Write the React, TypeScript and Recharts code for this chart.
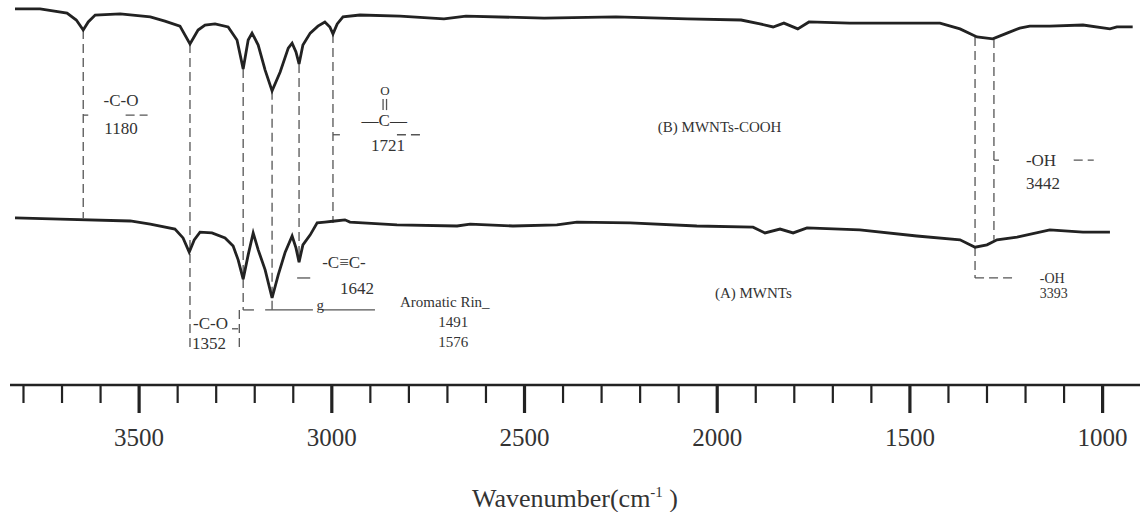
import React from "react";
import { LineChart, Line, XAxis, YAxis, ReferenceLine, ReferenceDot, Label } from "recharts";

// wavenumber (cm-1) and relative transmittance
const waveB = [3822, 3757, 3687, 3663, 3645, 3632, 3614, 3549, 3471, 3433, 3394, 3368, 3347, 3329, 3303, 3269, 3246, 3230, 3217, 3207, 3191, 3173, 3155, 3134, 3113, 3103, 3093, 3085, 3075, 3056, 3036, 3018, 3005, 2997, 2986, 2971, 2927, 2823, 2709, 2652, 2449, 2263, 2078, 1938, 1889, 1855, 1827, 1791, 1762, 1656, 1422, 1370, 1326, 1285, 1248, 1215, 1189, 1137, 1051, 981, 963, 922];
const transB = [97.7, 97.7, 96.6, 94.8, 92.2, 94.3, 96.1, 96.4, 95.6, 94.5, 93.2, 88.6, 92.2, 93.5, 93.8, 93.0, 89.6, 82.1, 89.6, 91.4, 88.3, 81.8, 76.4, 81.3, 87.5, 88.8, 86.5, 83.4, 88.3, 91.4, 93.2, 94.3, 93.0, 91.2, 93.8, 95.6, 96.1, 95.8, 95.1, 95.8, 95.3, 95.6, 95.1, 94.8, 93.8, 93.0, 94.0, 92.5, 94.3, 94.0, 94.0, 92.5, 90.4, 89.9, 91.4, 92.7, 93.2, 93.2, 93.5, 92.5, 93.0, 93.0];

const waveA = [3822, 3705, 3523, 3471, 3407, 3386, 3370, 3357, 3342, 3311, 3277, 3256, 3243, 3230, 3217, 3204, 3191, 3173, 3155, 3139, 3121, 3103, 3093, 3085, 3075, 3056, 3038, 3018, 2992, 2966, 2953, 2831, 2675, 2641, 2530, 2416, 2364, 2226, 2053, 1907, 1876, 1837, 1803, 1767, 1630, 1482, 1370, 1331, 1300, 1274, 1222, 1137, 1051, 981];
const transA = [43.4, 43.1, 42.6, 41.8, 40.5, 38.2, 34.5, 37.7, 39.7, 39.5, 38.2, 36.1, 32.5, 27.5, 33.8, 39.5, 35.1, 29.9, 22.6, 28.6, 34.5, 38.7, 35.6, 31.9, 36.4, 39.0, 42.1, 42.3, 42.6, 42.9, 42.3, 41.6, 41.3, 41.8, 41.3, 41.6, 42.3, 42.1, 41.3, 41.0, 39.5, 40.5, 39.5, 40.8, 40.3, 38.7, 37.7, 35.8, 36.4, 37.7, 38.4, 40.3, 39.7, 39.7];

const allTicks = [3800, 3700, 3600, 3500, 3400, 3300, 3200, 3100, 3000, 2900, 2800, 2700, 2600, 2500, 2400, 2300, 2200, 2100, 2000, 1900, 1800, 1700, 1600, 1500, 1400, 1300, 1200, 1100, 1000];
const majorTicks = [3500, 3000, 2500, 2000, 1500, 1000];

// dashed guide lines: [wavenumber from, value from, wavenumber to, value to]
const guides = [
  [3645, 92.2, 3645, 43.4],
  [3368, 88.6, 3368, 9.9],
  [3230, 82.1, 3230, 19.5],
  [3155, 76.4, 3155, 19.5],
  [3085, 83.4, 3085, 31.9],
  [2997, 91.2, 2997, 42.1],
  [3240, 19.5, 3240, 9.1],
  [1331, 90.4, 1331, 27.8],
  [1282, 89.9, 1282, 37.7],
  [1331, 27.8, 1228, 27.8],
  [3535, 70.1, 3478, 70.1],
  [2831, 65.0, 2766, 65.0],
  [1075, 58.4, 1023, 58.4],
];
// short solid strokes
const strokes = [
  [3230, 19.5, 3202, 19.5],
  [3173, 19.5, 3049, 19.5],
  [3025, 19.5, 2888, 19.5],
  [3645, 70.1, 3632, 70.1],
  [2997, 65.0, 2979, 65.0],
  [1282, 58.4, 1269, 58.4],
  [3090, 27.8, 3056, 27.8],
  [3259, 14.6, 3243, 14.6],
  [2867, 74.3, 2867, 71.4],
  [2858, 74.3, 2858, 71.4],
];

const notes = [
  { w: 3547, t: 74.0, text: "-C-O", anchor: "middle", size: 17 },
  { w: 3547, t: 66.8, text: "1180", anchor: "middle", size: 17 },
  { w: 2862, t: 76.6, text: "O", anchor: "middle", size: 13 },
  { w: 2864, t: 68.8, text: "—C—", anchor: "middle", size: 17 },
  { w: 2854, t: 62.3, text: "1721", anchor: "middle", size: 17 },
  { w: 2154, t: 67.0, text: "(B)  MWNTs-COOH", anchor: "start", size: 15 },
  { w: 1199, t: 58.4, text: "-OH", anchor: "start", size: 17 },
  { w: 1199, t: 52.5, text: "3442", anchor: "start", size: 17 },
  { w: 3025, t: 31.9, text: "-C≡C-", anchor: "start", size: 17 },
  { w: 2979, t: 25.2, text: "1642", anchor: "start", size: 17 },
  { w: 3030, t: 20.8, text: "g", anchor: "middle", size: 15 },
  { w: 2823, t: 21.6, text: "Aromatic Rin_", anchor: "start", size: 15 },
  { w: 2724, t: 16.4, text: "1491", anchor: "start", size: 15 },
  { w: 2724, t: 11.2, text: "1576", anchor: "start", size: 15 },
  { w: 2006, t: 23.9, text: "(A) MWNTs", anchor: "start", size: 15 },
  { w: 3360, t: 16.1, text: "-C-O", anchor: "start", size: 17 },
  { w: 3363, t: 10.9, text: "1352", anchor: "start", size: 17 },
  { w: 1163, t: 27.8, text: "-OH", anchor: "start", size: 14 },
  { w: 1163, t: 23.9, text: "3393", anchor: "start", size: 14 },
];

const dataB = waveB.map((w, i) => ({ w, t: transB[i] }));
const dataA = waveA.map((w, i) => ({ w, t: transA[i] }));

const FONT = '"Liberation Serif", "Times New Roman", serif';
const INK = "#222";

function WaveTick(props: any) {
  const { x, y, payload } = props;
  const major = majorTicks.includes(payload.value);
  return (
    <g>
      <line x1={x} x2={x} y1={y} y2={y + (major ? 28 : 18)} stroke={INK} strokeWidth={major ? 3.2 : 2.2} />
      {major && (
        <text x={x} y={y + 61} textAnchor="middle" fontFamily={FONT} fontSize={25} fill="#333">
          {payload.value}
        </text>
      )}
    </g>
  );
}

function AxisTitle(props: any) {
  const { viewBox } = props;
  const cx = viewBox.x + viewBox.width / 2;
  return (
    <text x={cx} y={viewBox.y + 122} textAnchor="middle" fontFamily={FONT} fontSize={26} fill="#333">
      Wavenumber(cm
      <tspan fontSize={15} dy={-10}>-1</tspan>
      <tspan dy={10}> )</tspan>
    </text>
  );
}

export default function App() {
  return (
    <div style={{ position: "absolute", left: 0, top: 0, background: "#fff" }}>
      <LineChart width={1143} height={512} margin={{ top: 0, right: 3, bottom: 0, left: 10 }}>
        <XAxis
          type="number"
          dataKey="w"
          domain={[903, 3835]}
          reversed
          ticks={allTicks}
          interval={0}
          height={127}
          tickSize={0}
          tickMargin={0}
          tickLine={false}
          tick={<WaveTick />}
          axisLine={{ stroke: INK, strokeWidth: 2.6 }}
        >
          <Label content={<AxisTitle />} />
        </XAxis>
        <YAxis type="number" domain={[0, 100]} hide />
        {guides.map((g, i) => (
          <ReferenceLine
            key={"g" + i}
            segment={[{ x: g[0], y: g[1] }, { x: g[2], y: g[3] }]}
            stroke="#555"
            strokeWidth={1.3}
            strokeDasharray="9 5"
          />
        ))}
        {strokes.map((g, i) => (
          <ReferenceLine
            key={"s" + i}
            segment={[{ x: g[0], y: g[1] }, { x: g[2], y: g[3] }]}
            stroke="#555"
            strokeWidth={1.3}
          />
        ))}
        <Line data={dataB} dataKey="t" type="linear" stroke={INK} strokeWidth={2.8} dot={false} isAnimationActive={false} />
        <Line data={dataA} dataKey="t" type="linear" stroke={INK} strokeWidth={2.8} dot={false} isAnimationActive={false} />
        {notes.map((n, i) => (
          <ReferenceDot
            key={"n" + i}
            x={n.w}
            y={n.t}
            r={0}
            shape={(p: any) => (
              <text
                x={p.cx}
                y={p.cy}
                dy="0.35em"
                textAnchor={n.anchor as any}
                fontFamily={FONT}
                fontSize={n.size}
                fill="#333"
              >
                {n.text}
              </text>
            )}
          />
        ))}
      </LineChart>
    </div>
  );
}
